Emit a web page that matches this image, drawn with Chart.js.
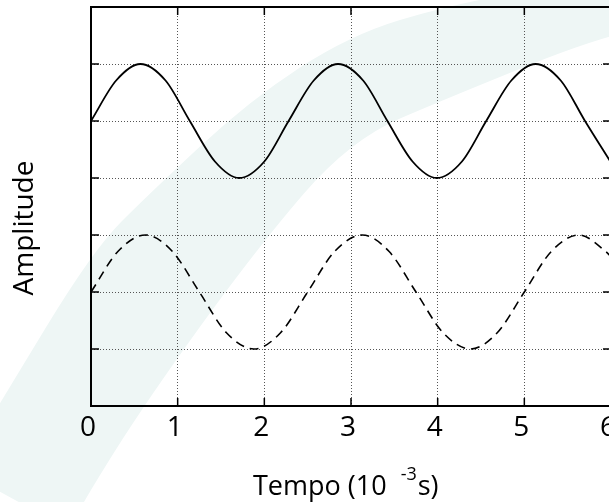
<!DOCTYPE html>
<html>
<head>
<meta charset="utf-8">
<script src="https://cdn.jsdelivr.net/npm/chart.js@4.4.1/dist/chart.umd.min.js"></script>
<style>
html, body { margin: 0; padding: 0; background: #fff; overflow: hidden; }
#wrap { position: relative; width: 640px; height: 502px; }
</style>
</head>
<body>
<div id="wrap"><canvas id="grafico"></canvas></div>
<script>
// valori (tempo in 10^-3 s)
const tempoA = [0, 0.29, 0.57, 0.86, 1.14, 1.43, 1.71, 2.0, 2.28, 2.57, 2.85, 3.14, 3.42, 3.71, 3.99, 4.28, 4.56, 4.85, 5.13, 5.42, 5.7, 6.0];
const ampA   = [5, 5.71, 6, 5.71, 5, 4.29, 4, 4.29, 5, 5.71, 6, 5.71, 5, 4.29, 4, 4.29, 5, 5.71, 6, 5.71, 5, 4.27];

const tempoB = [0, 0.31, 0.63, 0.94, 1.25, 1.56, 1.88, 2.19, 2.5, 2.81, 3.13, 3.44, 3.75, 4.06, 4.38, 4.69, 5.0, 5.31, 5.63, 5.94, 6.0];
const ampB   = [2, 2.71, 3, 2.71, 2, 1.29, 1, 1.29, 2, 2.71, 3, 2.71, 2, 1.29, 1, 1.29, 2, 2.71, 3, 2.71, 2.62];

const tickTempo = [0, 1, 2, 3, 4, 5, 6];
const tickAmp = [0, 1, 2, 3, 4, 5, 6, 7];

// bordi della fascia decorativa sullo sfondo
const bordoSup = [[-40, 470], [0, 403], [93, 250], [150, 193], [250, 100], [350, 35], [450, 5], [560, -15], [660, -25]];
const bordoInf = [[660, 25], [609, 33], [450, 97], [350, 140], [257, 248], [147, 400], [83, 502], [70, 530]];

Chart.defaults.font.family = "'Open Sans', sans-serif";
Chart.defaults.color = '#000';

function curva(ctx, p, primo) {
    if (primo) ctx.moveTo(p[0][0], p[0][1]);
    else ctx.lineTo(p[0][0], p[0][1]);
    for (let i = 1; i < p.length - 1; i++) {
        const mx = (p[i][0] + p[i + 1][0]) / 2;
        const my = (p[i][1] + p[i + 1][1]) / 2;
        ctx.quadraticCurveTo(p[i][0], p[i][1], mx, my);
    }
    const u = p[p.length - 1];
    ctx.lineTo(u[0], u[1]);
}

const sfondo = {
    id: 'sfondo',
    beforeDraw(chart) {
        const ctx = chart.ctx;
        ctx.save();
        ctx.fillStyle = '#fff';
        ctx.fillRect(0, 0, chart.width, chart.height);
        ctx.fillStyle = '#eef6f5';
        ctx.beginPath();
        curva(ctx, bordoSup, true);
        curva(ctx, bordoInf, false);
        ctx.closePath();
        ctx.fill();
        ctx.restore();
    }
};

const cornice = {
    id: 'cornice',
    afterDraw(chart) {
        const { ctx, chartArea: a, scales: { x, y } } = chart;
        ctx.save();
        // tacche verso l'interno
        ctx.strokeStyle = '#000';
        ctx.lineWidth = 1.5;
        ctx.beginPath();
        tickTempo.forEach(v => {
            const px = x.getPixelForValue(v);
            ctx.moveTo(px, a.bottom); ctx.lineTo(px, a.bottom - 8);
            ctx.moveTo(px, a.top); ctx.lineTo(px, a.top + 8);
        });
        tickAmp.forEach(v => {
            const py = y.getPixelForValue(v);
            ctx.moveTo(a.left, py); ctx.lineTo(a.left + 8, py);
            ctx.moveTo(a.right, py); ctx.lineTo(a.right - 8, py);
        });
        ctx.stroke();
        ctx.lineWidth = 2;
        ctx.strokeRect(a.left, a.top, a.right - a.left, a.bottom - a.top);

        // titoli degli assi
        ctx.fillStyle = '#000';
        ctx.textBaseline = 'alphabetic';
        ctx.font = "27px 'Open Sans', sans-serif";
        const t1 = 'Tempo (10';
        const x0 = 253;
        ctx.textAlign = 'left';
        ctx.fillText(t1, x0, 495);
        const w1 = ctx.measureText(t1).width;
        ctx.font = "18px 'Open Sans', sans-serif";
        const xs = x0 + w1 + 14;
        ctx.fillText('-3', xs, 480);
        const ws = ctx.measureText('-3').width;
        ctx.font = "27px 'Open Sans', sans-serif";
        ctx.fillText('s)', xs + ws + 1, 495);

        ctx.translate(33, 228);
        ctx.rotate(-Math.PI / 2);
        ctx.textAlign = 'center';
        ctx.font = "28px 'Open Sans', sans-serif";
        ctx.fillText('Amplitude', 0, 0);
        ctx.restore();
    }
};

const ctx = document.getElementById('grafico').getContext('2d');
new Chart(ctx, {
    type: 'line',
    data: {
        datasets: [
            {
                data: tempoA.map((t, i) => ({ x: t, y: ampA[i] })),
                borderColor: '#000',
                borderWidth: 1.8,
                pointRadius: 0,
                cubicInterpolationMode: 'monotone',
                fill: false
            },
            {
                data: tempoB.map((t, i) => ({ x: t, y: ampB[i] })),
                borderColor: '#000',
                borderWidth: 1.6,
                borderDash: [9, 6],
                pointRadius: 0,
                cubicInterpolationMode: 'monotone',
                fill: false
            }
        ]
    },
    options: {
        responsive: true,
        maintainAspectRatio: false,
        animation: false,
        layout: { padding: { left: 91, top: 7, right: 29, bottom: 0 } },
        plugins: { legend: { display: false }, tooltip: { enabled: false } },
        scales: {
            x: {
                type: 'linear',
                min: 0,
                max: 6,
                afterBuildTicks: s => { s.ticks = tickTempo.map(v => ({ value: v })); },
                afterFit: s => { s.height = 96; },
                grid: { color: '#555', lineWidth: 1, drawTicks: false },
                border: { display: false, dash: [1, 2] },
                ticks: { font: { size: 28 }, padding: 5, labelOffset: -3 }
            },
            y: {
                min: 0,
                max: 7,
                afterBuildTicks: s => { s.ticks = tickAmp.map(v => ({ value: v })); },
                afterFit: s => { s.width = 0; },
                grid: { color: '#555', lineWidth: 1, drawTicks: false },
                border: { display: false, dash: [1, 2] },
                ticks: { display: false }
            }
        }
    },
    plugins: [sfondo, cornice]
});
</script>
</body>
</html>
